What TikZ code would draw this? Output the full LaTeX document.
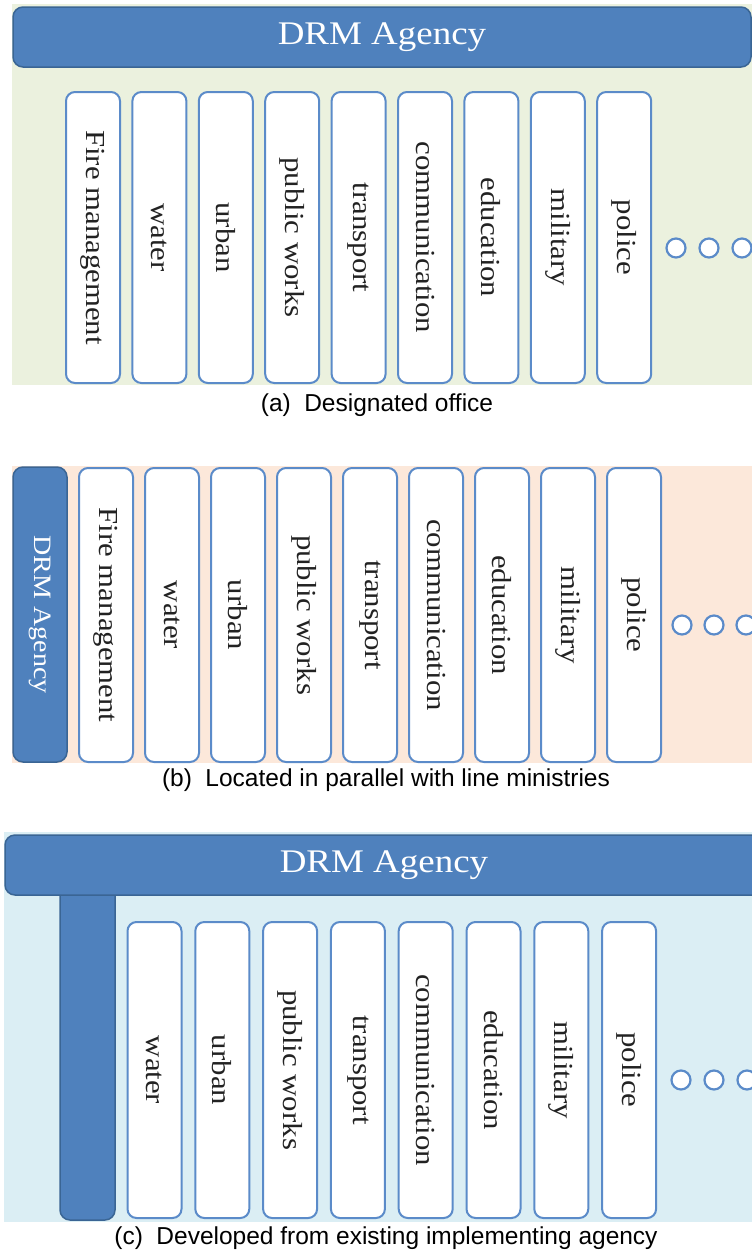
\documentclass[tikz,border=0pt]{standalone}
\usepackage{fontspec}
\newfontfamily\capfont{Liberation Sans}
\newfontfamily\boxfont[FakeStretch=1.12]{Liberation Serif}
\definecolor{hdr}{HTML}{4F81BD}
\definecolor{hdrline}{HTML}{3A6594}
\definecolor{boxline}{HTML}{5B8BC9}
\definecolor{bga}{HTML}{EBF1DE}
\definecolor{bgb}{HTML}{FCE8DA}
\definecolor{bgc}{HTML}{DBEEF4}
\definecolor{txt}{HTML}{222222}
\begin{document}
\begin{tikzpicture}[x=1pt,y=-1pt,
  office/.style={draw=boxline, line width=2pt, fill=white, rounded corners=9pt,
    minimum height=54pt, inner sep=0pt, rotate=-90, text=txt,
    font=\boxfont\fontsize{27.5}{30}\selectfont},
  header/.style={draw=hdrline, line width=1.5pt, fill=hdr, rounded corners=10pt,
    text=white, inner sep=0pt, font=\boxfont\fontsize{33}{38}\selectfont},
  dot/.style={circle, draw=boxline, line width=2.2pt, fill=white,
    minimum size=19pt, inner sep=0pt},
  caption/.style={font=\capfont\fontsize{24.5}{28}\selectfont}]
\useasboundingbox (0,0) rectangle (752,1253);
\clip (0,0) rectangle (752,1253);
\fill[white] (0,0) rectangle (752,1253);

% ---------- panel (a)
\fill[bga] (12,4) rectangle (752,385);
\node[header, minimum width=738pt, minimum height=60pt] (hA) at (382,37) {DRM Agency};
\foreach \t [count=\i from 0] in {Fire management,water,urban,public works,transport,communication,education,military,police}{
  \node[office, minimum width=291pt] (a\i) at ({93+66.4*\i},237.5) {\t};
}
\node[dot] (da1) at (676,248) {};
\node[dot] (da2) at (709,248) {};
\node[dot] (da3) at (742,248) {};
\node[caption] (capA) at (377,405) {(a)\hspace{0.55em}Designated office};

% ---------- panel (b)
\fill[bgb] (12,466) rectangle (752,763);
\node[header, rotate=-90, minimum width=295pt, minimum height=54pt,
  font=\boxfont\fontsize{25}{30}\selectfont] (hB) at (40,614.5) {DRM Agency};
\foreach \t [count=\i from 0] in {Fire management,water,urban,public works,transport,communication,education,military,police}{
  \node[office, minimum width=294pt] (b\i) at ({106+66*\i},615) {\t};
}
\node[dot] (db1) at (682,625) {};
\node[dot] (db2) at (714,625) {};
\node[dot] (db3) at (746,625) {};
\node[caption] (capB) at (386,780) {(b)\hspace{0.55em}Located in parallel with line ministries};

% ---------- panel (c)
\fill[bgc] (4,832) rectangle (752,1222);
\node[header, minimum width=55pt, minimum height=335pt] (barC) at (87.5,1052.5) {};
\node[header, minimum width=758pt, minimum height=60pt] (hC) at (384,865) {DRM Agency};
\foreach \t [count=\i from 0] in {water,urban,public works,transport,communication,education,military,police}{
  \node[office, minimum width=296pt] (c\i) at ({154.5+67.8*\i},1070) {\t};
}
\node[dot] (dc1) at (681,1080) {};
\node[dot] (dc2) at (714,1080) {};
\node[dot] (dc3) at (747,1080) {};
\node[caption] (capC) at (386,1238) {(c)\hspace{0.55em}Developed from existing implementing agency};
\end{tikzpicture}
\end{document}
